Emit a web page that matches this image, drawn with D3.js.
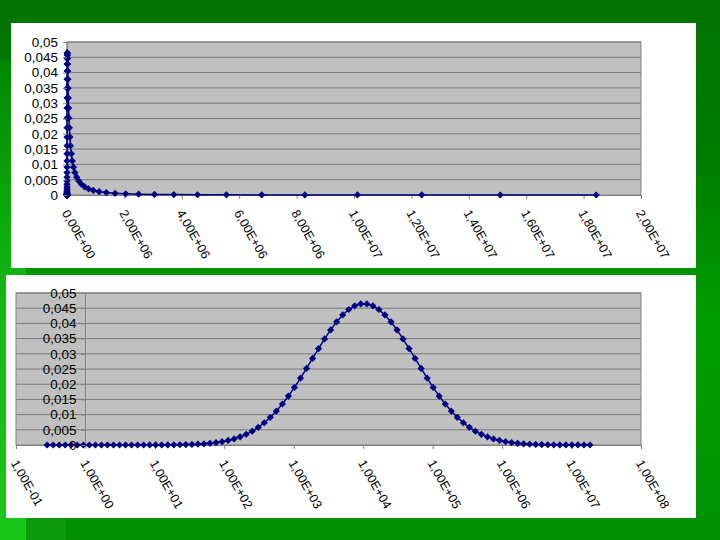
<!DOCTYPE html>
<html><head><meta charset="utf-8">
<script src="https://cdn.jsdelivr.net/npm/d3@7"></script>
<style>body{margin:0;background:#008800}svg{display:block}</style>
</head><body><svg id="c" width="720" height="540"></svg>
<script>
// ---- data ----
const xValues = [
 0.2808,0.3430,0.4189,0.5117,0.6250,0.7634,0.9324,1.1388,1.3910,1.6989,
 2.0751,2.5345,3.0956,3.7810,4.6182,5.6407,6.8895,8.4149,10.278,12.553,
 15.333,18.728,22.874,27.938,34.124,41.679,50.907,62.178,75.944,92.759,
 113.30,138.38,169.02,206.43,252.14,307.97,376.16,459.44,561.16,685.40,
 837.15,1022.5,1248.9,1525.4,1863.1,2275.6,2779.5,3394.8,4146.5,5064.5,
 6185.8,7555.2,9228.0,11271,13766,16815,20537,25084,30638,37422,
 45707,55826,68186,83281,101721,124244,151753,185349,226386,276512,
 337732,412503,503834,615367,751622,918046,1121298,1369557,1672770,2043170,
 2495540,3048000,3722856,4547000,5553800,6783500,8285300,10119700,12360000,15097000,
 18439700];
const yValues = [
 3.4e-10,7e-10,1.4e-9,2.7e-9,5.3e-9,1.0e-8,1.9e-8,3.6e-8,6.7e-8,1.2e-7,
 2.2e-7,3.9e-7,6.7e-7,1.2e-6,2.0e-6,3.3e-6,5.5e-6,8.9e-6,1.43e-5,2.27e-5,
 3.56e-5,5.50e-5,8.38e-5,1.26e-4,1.87e-4,2.73e-4,3.94e-4,5.61e-4,7.88e-4,0.00109,
 0.00149,0.00201,0.00268,0.00351,0.00455,0.00581,0.00732,0.00909,0.01115,0.01349,
 0.01609,0.01894,0.02199,0.02519,0.02847,0.03173,0.03490,0.03786,0.04052,0.04279,
 0.04457,0.04579,0.04642,0.04642,0.04579,0.04457,0.04279,0.04052,0.03786,0.03490,
 0.03173,0.02847,0.02519,0.02199,0.01894,0.01609,0.01349,0.01115,0.00909,0.00732,
 0.00581,0.00455,0.00351,0.00268,0.00201,0.00149,0.00109,7.88e-4,5.61e-4,3.94e-4,
 2.73e-4,1.87e-4,1.26e-4,8.38e-5,5.50e-5,3.56e-5,2.27e-5,1.43e-5,8.9e-6,5.5e-6,
 3.3e-6];
const yTicks = [0,0.005,0.01,0.015,0.02,0.025,0.03,0.035,0.04,0.045,0.05];
const yTickLabels = ["0","0,005","0,01","0,015","0,02","0,025","0,03","0,035","0,04","0,045","0,05"];
const topXTicks = [0,2e6,4e6,6e6,8e6,1e7,1.2e7,1.4e7,1.6e7,1.8e7,2e7];
const topXTickLabels = ["0,00E+00","2,00E+06","4,00E+06","6,00E+06","8,00E+06","1,00E+07","1,20E+07","1,40E+07","1,60E+07","1,80E+07","2,00E+07"];
const botXTicks = [1e-1,1e0,1e1,1e2,1e3,1e4,1e5,1e6,1e7,1e8];
const botXTickLabels = ["1,00E-01","1,00E+00","1,00E+01","1,00E+02","1,00E+03","1,00E+04","1,00E+05","1,00E+06","1,00E+07","1,00E+08"];

const points = xValues.map((x,i)=>({x, y:yValues[i]}));
const svg = d3.select("#c");
const FONT = "'Liberation Sans', Arial, sans-serif";

// ---- background ----
const defs = svg.append("defs");
const bg = defs.append("linearGradient").attr("id","bg").attr("x1",0).attr("y1",0).attr("x2",0).attr("y2",1);
bg.append("stop").attr("offset","0").attr("stop-color","#007300");
bg.append("stop").attr("offset","0.3").attr("stop-color","#007c00");
bg.append("stop").attr("offset","0.6").attr("stop-color","#009e00");
bg.append("stop").attr("offset","1").attr("stop-color","#009000");
const lg = defs.append("linearGradient").attr("id","lf").attr("x1",0).attr("y1",0).attr("x2",0).attr("y2",1);
lg.append("stop").attr("offset","0").attr("stop-color","#008800");
lg.append("stop").attr("offset","0.5").attr("stop-color","#14b814");
lg.append("stop").attr("offset","1").attr("stop-color","#18c818");
svg.append("rect").attr("width",720).attr("height",540).attr("fill","url(#bg)");
svg.append("rect").attr("x",0).attr("y",60).attr("width",26).attr("height",480).attr("fill","url(#lf)");
svg.append("rect").attr("x",26).attr("y",500).attr("width",40).attr("height",40).attr("fill","#0a9a0a");

// panels
svg.append("rect").attr("x",11).attr("y",23).attr("width",685).attr("height",245).attr("fill","#fff");
svg.append("rect").attr("x",6).attr("y",275).attr("width",690).attr("height",243).attr("fill","#fff");

function drawChart(x, y, yAxisX, xTicks, xTickLabels){
  const [x0,x1] = x.range();
  const [yb,yt] = y.range();
  const g = svg.append("g");
  g.append("rect").attr("x",x0).attr("y",yt).attr("width",x1-x0).attr("height",yb-yt)
    .attr("fill","#c0c0c0");
  // gridlines
  g.selectAll("line.grid").data(yTicks.slice(1)).join("line")
    .attr("x1",x0).attr("x2",x1).attr("y1",d=>y(d)).attr("y2",d=>y(d))
    .attr("stroke","#7a7a7a").attr("stroke-width",1);
  g.append("rect").attr("x",x0).attr("y",yt).attr("width",x1-x0).attr("height",yb-yt)
    .attr("fill","none").attr("stroke","#808080").attr("stroke-width",1);
  // y axis line
  g.append("line").attr("x1",yAxisX).attr("x2",yAxisX).attr("y1",yt).attr("y2",yb)
    .attr("stroke","#808080");
  // x axis
  const xa = g.append("g").attr("transform",`translate(0,${yb})`)
    .call(d3.axisBottom(x).tickValues(xTicks).tickFormat((d,i)=>xTickLabels[i]).tickSize(4).tickSizeOuter(0));
  xa.select(".domain").attr("stroke","#808080");
  xa.selectAll(".tick line").attr("stroke","#808080");
  xa.selectAll(".tick text").attr("x",0).attr("y",0).attr("dy",null)
    .attr("text-anchor","start").attr("transform","translate(-6,18) rotate(60)")
    .style("font-family",FONT).style("font-size","12.5px").attr("fill","#000");
  // series
  const line = d3.line().x(d=>x(d.x)).y(d=>y(d.y));
  g.append("path").datum(points).attr("d",line).attr("fill","none")
    .attr("stroke","#000080").attr("stroke-width",1.5);
  const sym = d3.symbol().type(d3.symbolSquare).size(26);
  g.selectAll("path.m").data(points).join("path").attr("class","m")
    .attr("d",sym).attr("transform",d=>`translate(${x(d.x)},${y(d.y)}) rotate(45)`)
    .attr("fill","#000080");
  // y axis ticks + labels
  const ya = g.append("g").attr("transform",`translate(${yAxisX},0)`)
    .call(d3.axisLeft(y).tickValues(yTicks).tickFormat((d,i)=>yTickLabels[i]).tickSize(4).tickSizeOuter(0));
  ya.select(".domain").remove();
  ya.selectAll(".tick line").attr("stroke","#808080");
  ya.selectAll(".tick text").attr("x",null).attr("dy","0.36em")
    .attr("transform","translate(-9,0) scale(1.12,1)")
    .style("font-family",FONT).style("font-size","12px").attr("fill","#000");
}

const xTop = d3.scaleLinear().domain([0,2e7]).range([67,641]);
const yTop = d3.scaleLinear().domain([0,0.05]).range([195,42]);
drawChart(xTop, yTop, 67, topXTicks, topXTickLabels);

const xBot = d3.scaleLog().domain([1e-1,1e8]).range([16,641]);
const yBot = d3.scaleLinear().domain([0,0.05]).range([445,293]);
drawChart(xBot, yBot, xBot(1), botXTicks, botXTickLabels);
</script></body></html>
